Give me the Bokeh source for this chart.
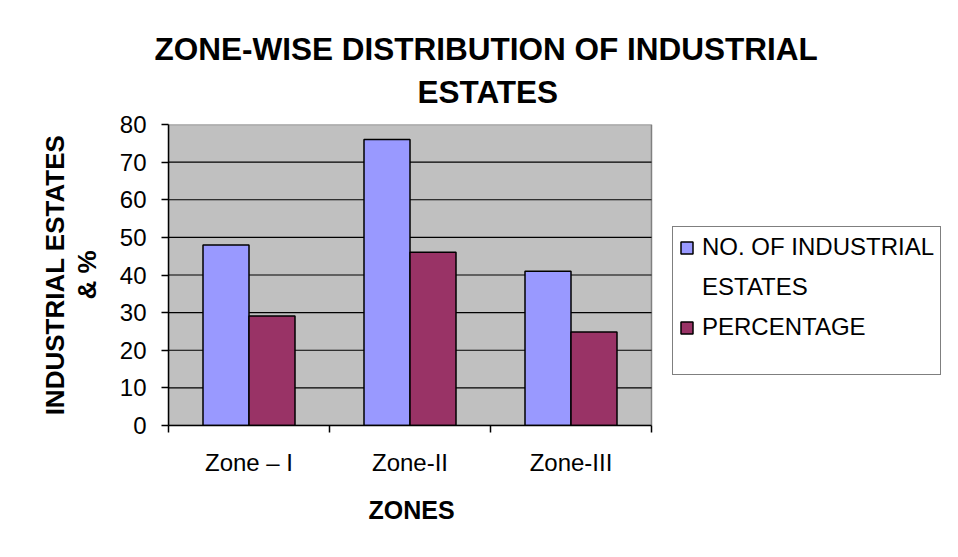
import numpy as np
from bokeh.plotting import figure
from bokeh.models import FixedTicker, Legend, LegendItem, Title, Range1d
from bokeh.embed import file_html
from bokeh.resources import INLINE

# ---- data ----
zones = ["Zone – I", "Zone-II", "Zone-III"]
estates = [48, 76, 41]
percentage = [29.09, 46.06, 24.85]
y_ticks = [0, 10, 20, 30, 40, 50, 60, 70, 80]
legend_lines = ["NO. OF INDUSTRIAL", "ESTATES", "PERCENTAGE"]
series_colors = ["#9999FF", "#993366"]

FONT = "Liberation Sans"

# ---- layout geometry (pixels) ----
W, H = 942, 541
PLOT_L, PLOT_R, PLOT_T, PLOT_B = 168, 651, 124, 425

n = len(zones)
x_end = n * (W - PLOT_L) / (PLOT_R - PLOT_L)   # frame extends to the right edge

p = figure(width=W, height=H, output_backend="svg", toolbar_location=None,
           x_range=Range1d(0, x_end), y_range=Range1d(0, y_ticks[-1]),
           min_border_left=PLOT_L, min_border_right=0, min_border_top=PLOT_T,
           min_border_bottom=H - PLOT_B, background_fill_color="white",
           border_fill_color="white", title=None)
p.outline_line_color = None
p.xgrid.visible = False
p.ygrid.visible = False

# plot area background
p.quad(left=[0], right=[n], bottom=[y_ticks[0]], top=[y_ticks[-1]],
       fill_color="#C0C0C0", line_color="#808080", line_width=1.5)
# gridlines
gl = y_ticks[1:-1]
p.segment(x0=[0] * len(gl), x1=[n] * len(gl), y0=gl, y1=gl,
          line_color="black", line_width=1.2)

centers = np.arange(n) + 0.5
bw = 1 / 3.5
r1 = p.vbar(x=centers - bw / 2, top=estates, width=bw, fill_color=series_colors[0],
            line_color="black", line_width=1.5)
r2 = p.vbar(x=centers + bw / 2, top=percentage, width=bw, fill_color=series_colors[1],
            line_color="black", line_width=1.5)
r_blank = p.vbar(x=[], top=[], width=bw, fill_alpha=0, line_alpha=0)

# y axis
p.yaxis.ticker = FixedTicker(ticks=y_ticks)
p.yaxis.axis_line_color = "black"
p.yaxis.axis_line_width = 1.5
p.yaxis.major_tick_line_color = "black"
p.yaxis.major_tick_line_width = 1.5
p.yaxis.major_tick_out = 7
p.yaxis.major_tick_in = 0
p.yaxis.minor_tick_line_color = None
p.yaxis.major_label_text_font = FONT
p.yaxis.major_label_text_font_size = "24px"
p.yaxis.major_label_text_color = "black"
p.yaxis.major_label_standoff = 15
p.yaxis.axis_label = "INDUSTRIAL ESTATES\n& %"
p.yaxis.axis_label_text_font = FONT
p.yaxis.axis_label_text_font_size = "26px"
p.yaxis.axis_label_text_font_style = "bold"
p.yaxis.axis_label_text_color = "black"
p.yaxis.axis_label_text_line_height = 1.07
p.yaxis.axis_label_standoff = 15

# x axis
p.xaxis.bounds = (0, n)
p.xaxis.ticker = FixedTicker(ticks=list(centers), minor_ticks=list(np.arange(n + 1)))
p.xaxis.major_label_overrides = {float(c): z for c, z in zip(centers, zones)}
p.xaxis.axis_line_color = "black"
p.xaxis.axis_line_width = 1.5
p.xaxis.major_tick_line_color = None
p.xaxis.minor_tick_line_color = "black"
p.xaxis.minor_tick_line_width = 1.5
p.xaxis.minor_tick_out = 7
p.xaxis.minor_tick_in = 0
p.xaxis.major_label_text_font = FONT
p.xaxis.major_label_text_font_size = "24px"
p.xaxis.major_label_text_color = "black"
p.xaxis.major_label_standoff = 16

# x axis title (centred under the plot area, not the extended frame)
p.add_layout(Title(text="ZONES", text_font=FONT, text_font_size="25px",
                   text_font_style="bold", align="left", offset=200, standoff=30,
                   text_color="black"), "below")

# titles
t2 = Title(text="ESTATES", text_font=FONT, text_font_size="31.5px", text_font_style="bold",
           align="left", offset=249, standoff=30, text_color="black")
t1 = Title(text="ZONE-WISE DISTRIBUTION OF INDUSTRIAL", text_font=FONT,
           text_font_size="31.5px", text_font_style="bold", align="left", offset=-14,
           standoff=-21, text_color="black")
p.add_layout(t2, "above")
p.add_layout(t1, "above")

# legend
legend = Legend(items=[LegendItem(label=legend_lines[0], renderers=[r1]),
                       LegendItem(label=legend_lines[1], renderers=[r_blank]),
                       LegendItem(label=legend_lines[2], renderers=[r2]),
                       LegendItem(label=" ", renderers=[r_blank])],
                location=(504, 50))
legend.label_text_font = FONT
legend.label_text_font_size = "24px"
legend.label_text_color = "black"
legend.glyph_width = 15
legend.glyph_height = 15
legend.label_standoff = 8
legend.padding = 6
legend.spacing = 12
legend.border_line_color = "black"
legend.border_line_width = 1.5
legend.background_fill_color = "white"
legend.background_fill_alpha = 1.0
legend.margin = 0
p.add_layout(legend, "center")

open("out.html", "w").write(file_html(p, INLINE))
